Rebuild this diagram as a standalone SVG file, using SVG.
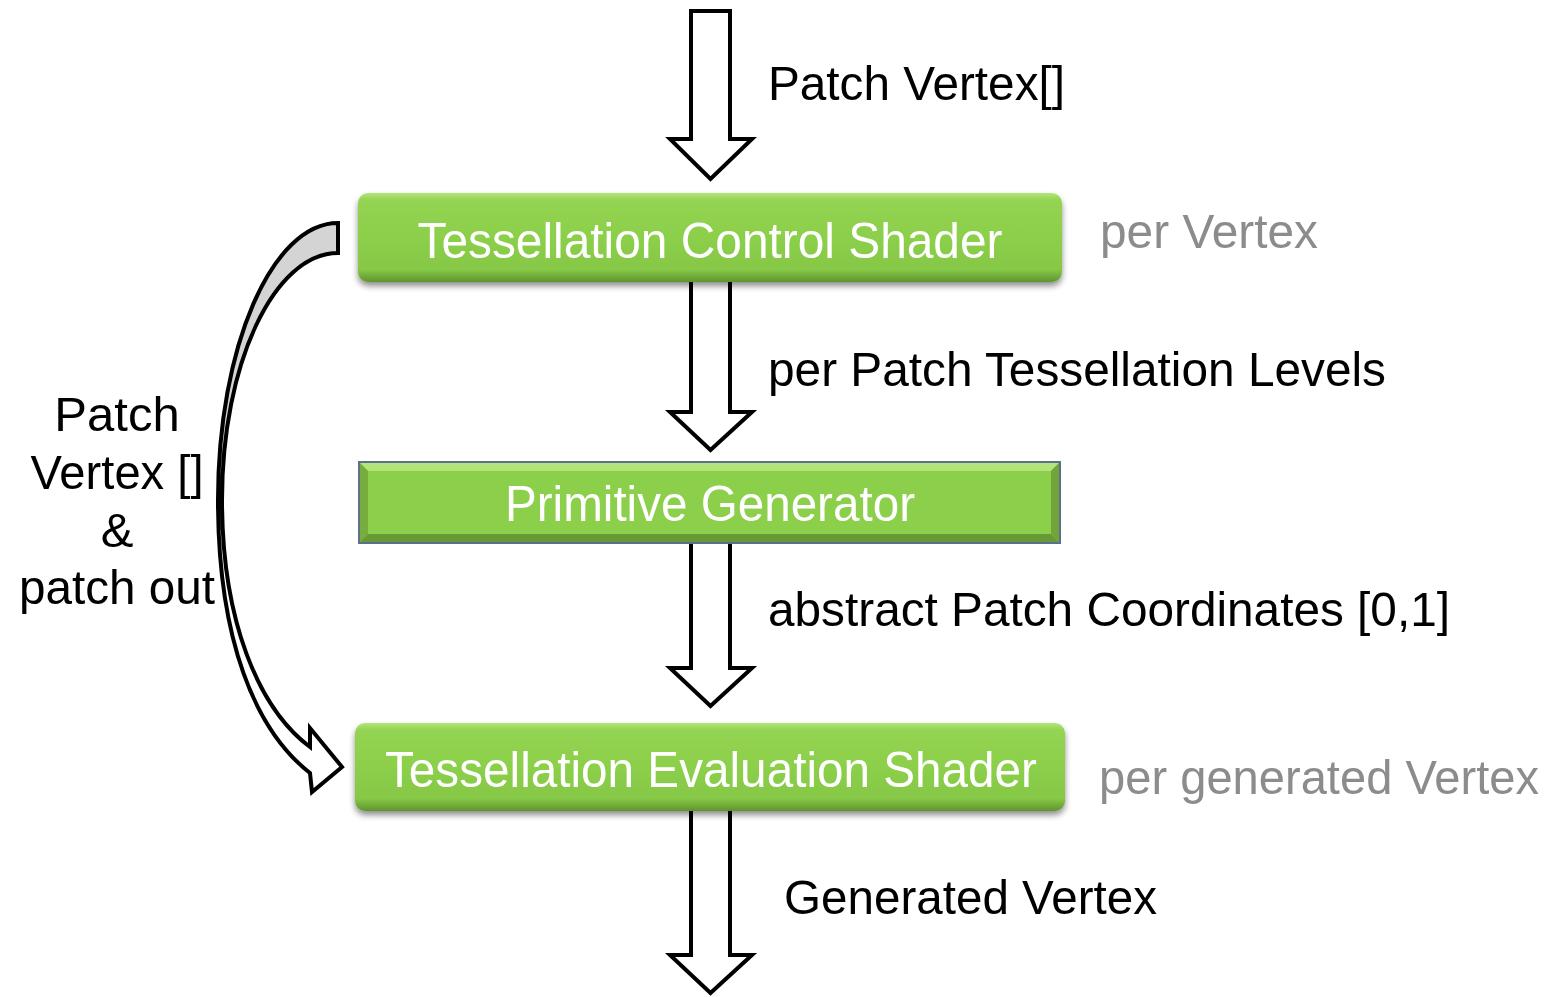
<svg xmlns="http://www.w3.org/2000/svg" width="1553" height="997" viewBox="0 0 1553 997">
  <style>
    .flow { fill: #ffffff; stroke: #000000; stroke-width: 4; stroke-linejoin: miter; }
    .back { fill: #d4d4d4; stroke: #000000; stroke-width: 4; stroke-linejoin: miter; }
    .lbl { font-family: "Liberation Sans", Arial, sans-serif; font-size: 49px; fill: #000000; }
    .note { font-family: "Liberation Sans", Arial, sans-serif; font-size: 49px; fill: #8c8c8c; }
    .boxtxt { font-family: "Liberation Sans", Arial, sans-serif; font-size: 50px; fill: #ffffff; text-anchor: middle; }
  </style>
  <defs>
    <linearGradient id="greenShade" x1="0" y1="0" x2="0" y2="1">
      <stop offset="0" stop-color="#b4e57a"/>
      <stop offset="0.08" stop-color="#93d452"/>
      <stop offset="0.5" stop-color="#8ccf4a"/>
      <stop offset="0.86" stop-color="#86c846"/>
      <stop offset="1" stop-color="#5f9430"/>
    </linearGradient>
    <filter id="dropShadow" x="-5%" y="-20%" width="110%" height="150%">
      <feGaussianBlur in="SourceAlpha" stdDeviation="3"/>
      <feOffset dx="0" dy="4" result="b"/>
      <feComponentTransfer><feFuncA type="linear" slope="0.45"/></feComponentTransfer>
      <feMerge><feMergeNode/><feMergeNode in="SourceGraphic"/></feMerge>
    </filter>
  </defs>

  <rect width="1553" height="997" fill="#ffffff"/>

  <!-- block arrows and the curved feedback arrow -->
  <g id="connectors">
    <polygon class="flow" points="691,11 730,11 730,139 752,139 710.5,179 670,139 691,139"/>
    <polygon class="flow" points="691,278 730,278 730,412 752,412 710.5,450 670,412 691,412"/>
    <polygon class="flow" points="691,540 730,540 730,668 752,668 710.5,706 670,668 691,668"/>
    <polygon class="flow" points="691,808 730,808 730,955 752,955 710.5,993 670,955 691,955"/>

    <!-- curved arrow: front face with head, then the grey back face -->
    <path class="flow" d="M218,500 C218,640 255,730 310,773 L312,792 L342,767 L310,728 L310,747 C258,708 222,620 222,500 Z"/>
    <path class="back" d="M338,223 L338,253 C274,253 222,364 222,500 L218,500 C218,347 272,223 338,223 Z"/>
  </g>

  <g id="tcs" filter="url(#dropShadow)">
    <rect x="358" y="193" width="704" height="89" rx="10" fill="url(#greenShade)"/>
    <text class="boxtxt" x="710" y="258" textLength="585" lengthAdjust="spacingAndGlyphs">Tessellation Control Shader</text>
  </g>

  <g id="primgen">
    <rect x="359" y="462" width="701" height="81" fill="#8ccf4a" stroke="#5d7089" stroke-width="2"/>
    <polygon points="360,463 1059,463 1051,471 368,471" fill="#b3e47a"/>
    <polygon points="360,463 368,471 368,534 360,542" fill="#76ad3e"/>
    <polygon points="1059,463 1051,471 1051,534 1059,542" fill="#6fa53a"/>
    <polygon points="360,542 368,534 1051,534 1059,542" fill="#679a36"/>
    <text class="boxtxt" x="710" y="521" textLength="410" lengthAdjust="spacingAndGlyphs">Primitive Generator</text>
  </g>

  <g id="tes" filter="url(#dropShadow)">
    <rect x="355" y="723" width="710" height="88" rx="10" fill="url(#greenShade)"/>
    <text class="boxtxt" x="711" y="787" textLength="652" lengthAdjust="spacingAndGlyphs">Tessellation Evaluation Shader</text>
  </g>

  <g id="labels">
    <text class="lbl" x="768" y="100" textLength="297" lengthAdjust="spacingAndGlyphs">Patch Vertex[]</text>
    <text class="note" x="1100" y="248" textLength="218" lengthAdjust="spacingAndGlyphs">per Vertex</text>
    <text class="lbl" x="768" y="386" textLength="618" lengthAdjust="spacingAndGlyphs">per Patch Tessellation Levels</text>
    <text class="lbl" x="768" y="626" textLength="682" lengthAdjust="spacingAndGlyphs">abstract Patch Coordinates [0,1]</text>
    <text class="note" x="1099" y="794" textLength="440" lengthAdjust="spacingAndGlyphs">per generated Vertex</text>
    <text class="lbl" x="784" y="914" textLength="373" lengthAdjust="spacingAndGlyphs">Generated Vertex</text>
    <text class="lbl" x="117" y="431" text-anchor="middle">Patch</text>
    <text class="lbl" x="117" y="489" text-anchor="middle" textLength="173" lengthAdjust="spacingAndGlyphs">Vertex []</text>
    <text class="lbl" x="117" y="547" text-anchor="middle">&amp;</text>
    <text class="lbl" x="117" y="604" text-anchor="middle" textLength="196" lengthAdjust="spacingAndGlyphs">patch out</text>
  </g>
</svg>
